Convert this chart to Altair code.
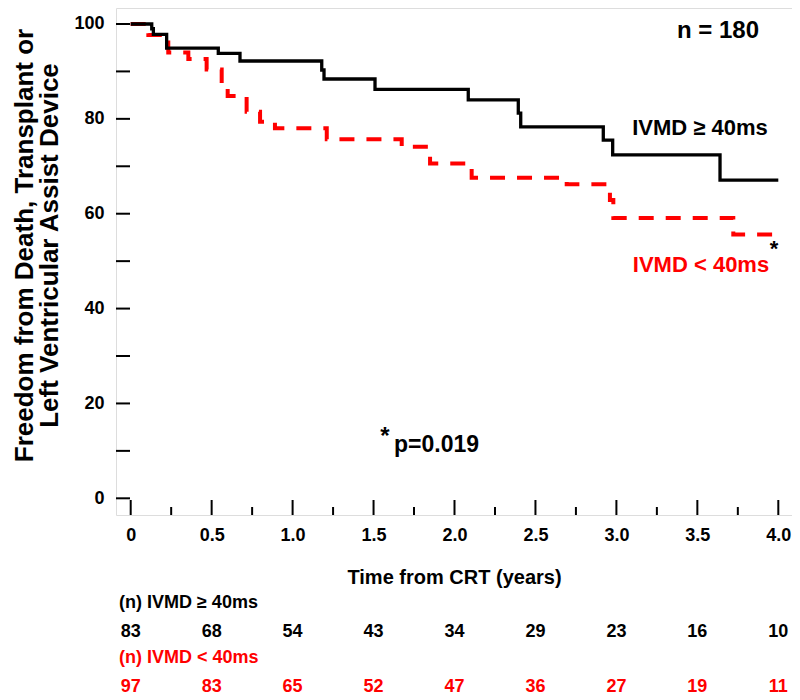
import altair as alt
import pandas as pd

# ---------------- data ----------------
# IVMD >= 40ms (black, solid) : step times (years) and survival (%)
t_hi = [0, 0.130, 0.140, 0.222, 0.541, 0.675, 1.180, 1.194, 1.509, 2.085, 2.394, 2.409, 2.919, 2.977, 3.640, 4.00]
s_hi = [100, 99.0, 97.8, 94.9, 93.8, 92.2, 90.3, 88.4, 86.2, 84.0, 81.2, 78.3, 75.5, 72.4, 67.1, 67.1]

# IVMD < 40ms (red, dashed)
t_lo = [0, 0.109, 0.232, 0.356, 0.469, 0.562, 0.599, 0.716, 0.799, 0.891, 1.211, 1.674, 1.849, 2.106, 2.693, 2.960, 2.981, 3.722, 4.00]
s_lo = [100, 97.7, 94.0, 92.6, 90.4, 87.3, 84.8, 81.5, 79.4, 78.0, 75.7, 74.1, 70.6, 67.6, 66.2, 62.9, 59.1, 55.6, 55.6]

# number at risk
risk_times = [0, 0.5, 1.0, 1.5, 2.0, 2.5, 3.0, 3.5, 4.0]
risk_hi = [83, 68, 54, 43, 34, 29, 23, 16, 10]
risk_lo = [97, 83, 65, 52, 47, 36, 27, 19, 11]

# axis ticks / labels
x_major = [0, 0.5, 1.0, 1.5, 2.0, 2.5, 3.0, 3.5, 4.0]
x_minor = [0.25, 0.75, 1.25, 1.75, 2.25, 2.75, 3.25, 3.75]
y_ticks = [0, 10, 20, 30, 40, 50, 60, 70, 80, 90, 100]
y_labels = [0, 20, 40, 60, 80, 100]

x_title = "Time from CRT (years)"
y_title = ["Freedom from Death, Transplant or", "Left Ventricular Assist Device"]
lab_hi = "IVMD \u2265 40ms"
lab_lo = "IVMD < 40ms"
row_hi = "(n) IVMD \u2265 40ms"
row_lo = "(n) IVMD < 40ms"

# ---------------- layout ----------------
W, H = 676, 507
FONT = "Liberation Sans"
RED = "#ff0000"

xs = alt.Scale(domain=[-0.0908, 4.0846], nice=False, zero=False)
ys = alt.Scale(domain=[-3.52, 103.37], nice=False, zero=False)

x_axis = alt.Axis(
    values=x_major,
    labelExpr="datum.value == 0 ? '0' : format(datum.value, '.1f')",
    ticks=False, domain=False, grid=False,
    labelFont=FONT, labelFontSize=18, labelFontWeight="bold", labelColor="black",
    labelPadding=11, labelFlush=False, labelOverlap=False,
    title=x_title, titleFont=FONT, titleFontSize=20, titleFontWeight="bold",
    titleColor="black", titleX=W / 2, titleY=62, titleAlign="center",
    titleBaseline="middle",
)
y_axis = alt.Axis(
    values=y_labels,
    ticks=False, domain=False, grid=False,
    labelFont=FONT, labelFontSize=18, labelFontWeight="bold", labelColor="black",
    labelPadding=12, labelFlush=False, labelOverlap=False,
    title=y_title, titleFont=FONT, titleFontSize=26, titleFontWeight="bold",
    titleColor="black", titleX=-92, titleY=237, titleAlign="center",
    titleBaseline="middle", titleLineHeight=25, titleAngle=270,
)

X = alt.X("t:Q", scale=xs, axis=x_axis)
Y = alt.Y("s:Q", scale=ys, axis=y_axis)

hi_df = pd.DataFrame({"t": t_hi, "s": s_hi})
lo_df = pd.DataFrame({"t": t_lo, "s": s_lo})

xmaj_df = pd.DataFrame({"t": x_major})
xmin_df = pd.DataFrame({"t": x_minor})
yt_df = pd.DataFrame({"s": y_ticks})

x_major_ticks = alt.Chart(xmaj_df).mark_rule(color="black", strokeWidth=2).encode(
    x=X, y=alt.value(H), y2=alt.value(H - 15))
x_minor_ticks = alt.Chart(xmin_df).mark_rule(color="black", strokeWidth=2).encode(
    x=X, y=alt.value(H), y2=alt.value(H - 8))
y_tick_rules = alt.Chart(yt_df).mark_rule(color="black", strokeWidth=2).encode(
    y=Y, x=alt.value(0), x2=alt.value(14))

red_line = alt.Chart(lo_df).mark_line(
    interpolate="step-after", color=RED, strokeWidth=4, strokeDash=[15, 12]
).encode(x=X, y=Y)
black_line = alt.Chart(hi_df).mark_line(
    interpolate="step-after", color="black", strokeWidth=3.3
).encode(x=X, y=Y)


def txt(text, x, y, size, color="black", align="center", baseline="alphabetic"):
    return alt.Chart(pd.DataFrame({"lab": [text]})).mark_text(
        font=FONT, fontSize=size, fontWeight="bold", color=color,
        align=align, baseline=baseline,
    ).encode(x=alt.value(x), y=alt.value(y), text="lab:N")


n_text = txt("n = 180", 602, 30, 24)
hi_text = txt(lab_hi, 584, 127, 22)
lo_text = txt(lab_lo, 585, 264, 22, color=RED)
star_end = txt("*", 658, 248, 22)
p_star = txt("*", 269, 436, 24)
p_text = txt("p=0.019", 278, 444, 23, align="left")

row_hi_lab = txt(row_hi, 3, 595, 18, align="left", baseline="middle")
row_lo_lab = txt(row_lo, 3, 650, 18, color=RED, align="left", baseline="middle")

risk_hi_df = pd.DataFrame({"t": risk_times, "n": risk_hi})
risk_lo_df = pd.DataFrame({"t": risk_times, "n": risk_lo})
risk_hi_text = alt.Chart(risk_hi_df).mark_text(
    font=FONT, fontSize=18, fontWeight="bold", color="black", baseline="middle"
).encode(x=X, y=alt.value(624), text="n:Q")
risk_lo_text = alt.Chart(risk_lo_df).mark_text(
    font=FONT, fontSize=18, fontWeight="bold", color=RED, baseline="middle"
).encode(x=X, y=alt.value(679), text="n:Q")

chart = alt.layer(
    x_major_ticks, x_minor_ticks, y_tick_rules,
    red_line, black_line,
    n_text, hi_text, lo_text, star_end, p_star, p_text,
    row_hi_lab, row_lo_lab, risk_hi_text, risk_lo_text,
).properties(
    width=W, height=H,
    autosize=alt.AutoSizeParams(type="none"),
    padding={"left": 108, "top": 0, "right": 0, "bottom": 185},
).configure_view(
    stroke="black", strokeWidth=2.5
).configure(background="white")

chart.save("out.html", embed_options={"renderer": "svg", "actions": False})
